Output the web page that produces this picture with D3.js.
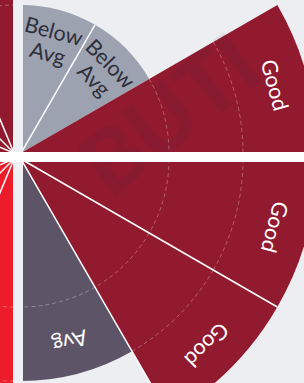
<!DOCTYPE html>
<html><head><meta charset="utf-8">
<script src="https://cdn.jsdelivr.net/npm/d3@7"></script>
<style>html,body{margin:0;padding:0;background:#eceef2;overflow:hidden}</style>
</head><body><svg id="chart" width="304" height="383"></svg>
<script>
// ---- data ----
const sectorRating = ["Below Avg","Below Avg","Good","Good","Good","Avg","Excellent","Excellent","Excellent","Excellent","Good","Good","Good","Good"];
const sectorStart = [0,30,60,90,120,150,180,202.5,225,247.5,270,292.5,315,337.5];
const sectorEnd   = [30,60,90,120,150,180,202.5,225,247.5,270,292.5,315,337.5,360];
const ratingNames  = ["Poor","Below Avg","Avg","Good","Excellent"];
const ratingValues = [1,2,3,4,5];
const gridValues = [2,3,4];
const watermarkText = "BUTI";

// ---- styles ----
const fillColor = {"Poor":"#c9ccd6","Below Avg":"#9da2b1","Avg":"#5d5468","Good":"#921a2f","Excellent":"#ec1c2a"};
const textColor = {"Poor":"#2f2f3a","Below Avg":"#2f2f3a","Avg":"#ffffff","Good":"#ffffff","Excellent":"#ffffff"};

const W = 304, H = 383;
const svg = d3.select("#chart");
svg.append("rect").attr("width",W).attr("height",H).attr("fill","#eceef2");

const base = {x:17.5, y:156};
const r = d3.scaleLinear().domain([0,4]).range([0,296]);
const valueOf = d3.scaleOrdinal().domain(ratingNames).range(ratingValues);
const rad = d => d*Math.PI/180;

const sectors = sectorRating.map((name,i)=>{
  const a0 = rad(sectorStart[i]), a1 = rad(sectorEnd[i]);
  const mid = (a0+a1)/2;
  const qx = Math.sin(mid)>0 ? 1 : -1, qy = Math.cos(mid)>0 ? -1 : 1;
  return {name, value:valueOf(name), a0, a1, mid, q:qx+"_"+qy, cx:base.x+qx*3.5, cy:base.y+qy*3};
});

const arc = d3.arc().innerRadius(0);

svg.append("g").selectAll("path.sector").data(sectors).join("path")
  .attr("class","sector")
  .attr("transform",d=>`translate(${d.cx},${d.cy})`)
  .attr("d",d=>arc({outerRadius:r(d.value),startAngle:d.a0,endAngle:d.a1}))
  .attr("fill",d=>fillColor[d.name]);

// dashed grid arcs inside sectors
const gridData = [];
sectors.forEach(s=>gridValues.filter(g=>g<s.value).forEach(g=>gridData.push({s,g})));
svg.append("g").selectAll("path").data(gridData).join("path")
  .attr("d",d=>{const p=d3.path(); p.arc(d.s.cx,d.s.cy,r(d.g),d.s.a0-Math.PI/2,d.s.a1-Math.PI/2); return p.toString();})
  .attr("fill","none").attr("stroke","rgba(255,255,255,0.3)").attr("stroke-width",1).attr("stroke-dasharray","4,3");

// white dividers between neighbouring sectors of a quadrant
const dividers = [];
sectors.forEach((s,i)=>{
  const n = sectors[i+1];
  if(n && n.q===s.q && n.value<=s.value) dividers.push({s, len:r(s.value)});
});
svg.append("g").selectAll("line").data(dividers).join("line")
  .attr("x1",d=>d.s.cx).attr("y1",d=>d.s.cy)
  .attr("x2",d=>d.s.cx+d.len*Math.sin(d.s.a1)).attr("y2",d=>d.s.cy-d.len*Math.cos(d.s.a1))
  .attr("stroke","#ffffff").attr("stroke-width",1.5);

// watermark
svg.append("text").text(watermarkText)
  .attr("transform","translate(168,112) rotate(-38)")
  .attr("text-anchor","middle").attr("dominant-baseline","central")
  .attr("font-family","Lato, sans-serif").attr("font-weight",900).attr("font-size",86)
  .attr("fill","rgba(30,40,70,0.07)");

// separating cross
svg.append("rect").attr("x",13).attr("y",0).attr("width",10).attr("height",H).attr("fill","#eef0f4");
svg.append("rect").attr("x",0).attr("y",152).attr("width",W).attr("height",10).attr("fill","#ffffff");

// labels
const labels = sectors.map(s=>{
  const rl = r(s.value)-33;
  return {s, x:s.cx+rl*Math.sin(s.mid), y:s.cy-rl*Math.cos(s.mid)};
}).filter(d=>d.x>-20 && d.x<W+20 && d.y>-20 && d.y<H+20);

const gL = svg.append("g").selectAll("g").data(labels).join("g")
  .attr("transform",d=>`translate(${d.x},${d.y}) rotate(${d.s.mid*180/Math.PI})`);
gL.each(function(d){
  const words = d.s.name.split(" ");
  const t = d3.select(this).append("text")
    .attr("text-anchor","middle").attr("dominant-baseline","central")
    .attr("font-family","Lato, sans-serif").attr("font-size",21.5)
    .attr("fill",textColor[d.s.name]);
  words.forEach((w,i)=>{
    t.append("tspan").attr("x",0).attr("y",(i-(words.length-1)/2)*23).text(w);
  });
});
</script></body></html>
